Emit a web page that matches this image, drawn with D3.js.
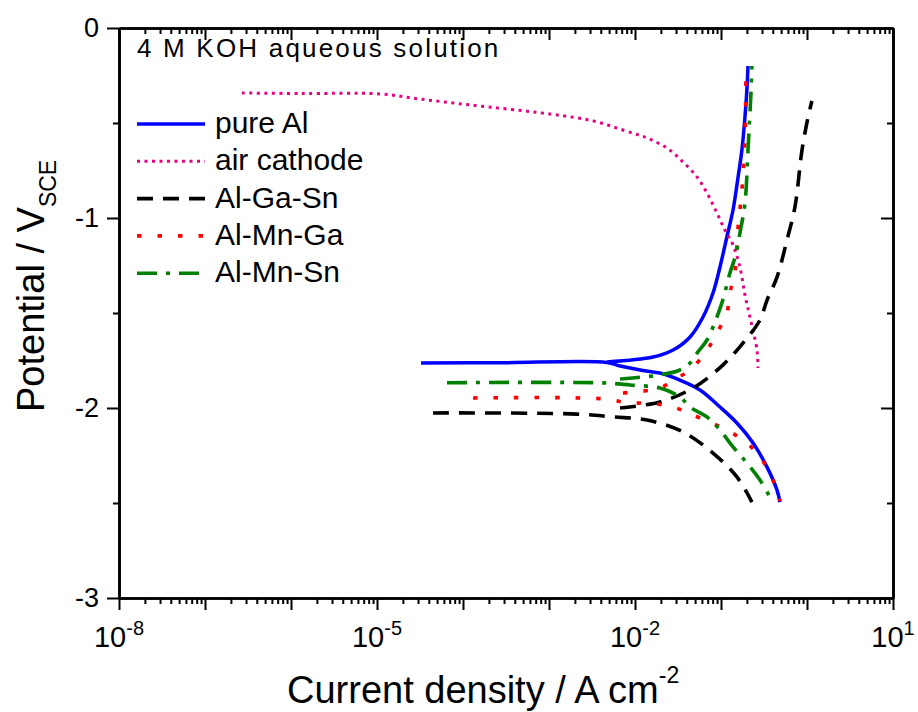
<!DOCTYPE html>
<html>
<head>
<meta charset="utf-8">
<script src="https://cdn.jsdelivr.net/npm/d3@7"></script>
<style>
  html, body { margin: 0; padding: 0; background: #fff; }
  svg { display: block; font-family: Arial, "Liberation Sans", sans-serif; }
</style>
</head>
<body>
<svg id="chart" width="918" height="712"></svg>
<script>
(function () {
  'use strict';

  // Polarization curves: [current density (A cm^-2), potential (V vs SCE)]
  const pureAlCathodic = [
    [3.25e-5, -1.763], [2.7e-4, -1.762], [4.72e-3, -1.760], [6.7e-3, -1.779], [1.62e-2, -1.811],
    [1.95e-2, -1.816], [3.33e-2, -1.853], [5.70e-2, -1.905], [9.73e-2, -1.995], [0.153, -2.079],
    [0.236, -2.184], [0.343, -2.311], [0.448, -2.432], [0.485, -2.495]
  ];
  const pureAlAnodic = [
    [4.72e-3, -1.758], [1.62e-2, -1.732], [2.77e-2, -1.695], [4.37e-2, -1.626], [6.18e-2, -1.521],
    [8.07e-2, -1.395], [9.73e-2, -1.258], [0.117, -1.100], [0.138, -0.958], [0.158, -0.784],
    [0.175, -0.642], [0.190, -0.468], [0.200, -0.326], [0.206, -0.200]
  ];
  const airCathode = [
    [2.69e-7, -0.342], [1.27e-6, -0.345], [1.08e-5, -0.347], [3.16e-5, -0.374], [1.21e-4, -0.405],
    [1.03e-3, -0.453], [3.25e-3, -0.489], [7.24e-3, -0.537], [1.38e-2, -0.579], [2.36e-2, -0.632],
    [3.61e-2, -0.705], [5.26e-2, -0.784], [6.87e-2, -0.868], [8.97e-2, -0.974], [0.111, -1.063],
    [0.138, -1.142], [0.166, -1.258], [0.190, -1.405], [0.217, -1.521], [0.262, -1.695], [0.269, -1.789]
  ];
  const alGaSnCathodic = [
    [4.48e-5, -2.026], [2.12e-3, -2.032], [5.55e-3, -2.047], [1.38e-2, -2.063], [3.61e-2, -2.126],
    [8.07e-2, -2.237], [0.153, -2.363], [0.229, -2.495]
  ];
  const alGaSnAnodic = [
    [6.70e-3, -2.000], [1.95e-2, -1.968], [4.72e-2, -1.895], [0.105, -1.774], [0.180, -1.658],
    [0.284, -1.537], [0.343, -1.432], [0.448, -1.311], [0.585, -1.116], [0.724, -0.942],
    [0.875, -0.642], [1.03, -0.468], [1.14, -0.384]
  ];
  const alMnGaCathodic = [
    [1.31e-4, -1.947], [4.72e-3, -1.953], [8.30e-3, -1.974], [1.38e-2, -1.974], [2.77e-2, -1.995],
    [4.72e-2, -2.037], [0.117, -2.116], [0.200, -2.184], [0.284, -2.258], [0.403, -2.379], [0.485, -2.490]
  ];
  const alMnGaAnodic = [
    [7.24e-3, -1.921], [1.95e-2, -1.895], [2.77e-2, -1.853], [4.37e-2, -1.800], [6.87e-2, -1.695],
    [8.97e-2, -1.605], [0.117, -1.500], [0.127, -1.395], [0.146, -1.274], [0.158, -1.047],
    [0.175, -0.853], [0.190, -0.579], [0.195, -0.221]
  ];
  const alMnSnCathodic = [
    [6.52e-5, -1.867], [4.25e-3, -1.868], [8.75e-3, -1.879], [1.95e-2, -1.895], [3.33e-2, -1.942],
    [4.37e-2, -1.995], [6.87e-2, -2.047], [9.73e-2, -2.116], [0.138, -2.205], [0.200, -2.289],
    [0.284, -2.379], [0.403, -2.500]
  ];
  const alMnSnAnodic = [
    [6.70e-3, -1.847], [1.95e-2, -1.826], [3.33e-2, -1.800], [4.37e-2, -1.763], [5.26e-2, -1.711],
    [6.87e-2, -1.642], [8.97e-2, -1.521], [0.105, -1.432], [0.127, -1.289], [0.146, -1.205],
    [0.166, -1.079], [0.190, -0.921], [0.206, -0.642], [0.223, -0.342], [0.229, -0.200]
  ];

  const xMajorTicks = [1e-8, 1e-7, 1e-6, 1e-5, 1e-4, 1e-3, 1e-2, 1e-1, 1, 10];
  const xLabelExponents = [-8, -5, -2, 1];
  const yMajorTicks = [0, -1, -2, -3];
  const yMinorTicks = [-0.5, -1.5, -2.5];

  const series = [
    { name: 'pure Al', color: '#0000ff', width: 3.5, dash: null, parts: [pureAlCathodic, pureAlAnodic] },
    { name: 'air cathode', color: '#e6007e', width: 3, dash: '3,4.5', parts: [airCathode] },
    { name: 'Al-Ga-Sn', color: '#000000', width: 3.6, dash: '16,10', parts: [alGaSnCathodic, alGaSnAnodic] },
    { name: 'Al-Mn-Ga', color: '#ff0000', width: 3.6, dash: '4.5,16', parts: [alMnGaCathodic, alMnGaAnodic] },
    { name: 'Al-Mn-Sn', color: '#008000', width: 3.6, dash: '20,9,4,9', parts: [alMnSnCathodic, alMnSnAnodic] }
  ];

  const m = { left: 119, right: 893, top: 28, bottom: 598 };
  const svg = d3.select('#chart');

  const x = d3.scaleLog().domain([1e-8, 10]).range([m.left, m.right]);
  const y = d3.scaleLinear().domain([-3, 0]).range([m.bottom, m.top]);

  const xMinorTicks = [];
  xMajorTicks.slice(0, -1).forEach(d => {
    for (let k = 2; k <= 9; k++) xMinorTicks.push(d * k);
  });

  // axes: bottom/left ticks out, top/right ticks in
  function styleAxis(g) {
    g.select('.domain').attr('stroke', '#000').attr('stroke-width', 2.6);
    g.selectAll('.tick line').attr('stroke', '#000').attr('stroke-width', 2);
    g.selectAll('.tick text').remove();
  }

  const axes = [
    { make: d3.axisBottom, pos: `translate(0,${m.bottom})`, scale: x, major: xMajorTicks, minor: xMinorTicks },
    { make: d3.axisBottom, pos: `translate(0,${m.top})`, scale: x, major: xMajorTicks, minor: xMinorTicks },
    { make: d3.axisLeft, pos: `translate(${m.left},0)`, scale: y, major: yMajorTicks, minor: yMinorTicks },
    { make: d3.axisLeft, pos: `translate(${m.right},0)`, scale: y, major: yMajorTicks, minor: yMinorTicks }
  ];

  axes.forEach(a => {
    svg.append('g').attr('transform', a.pos)
      .call(a.make(a.scale).tickValues(a.minor).tickSize(6).tickSizeOuter(0).tickFormat(''))
      .call(styleAxis);
    svg.append('g').attr('transform', a.pos)
      .call(a.make(a.scale).tickValues(a.major).tickSize(12).tickSizeOuter(0).tickFormat(''))
      .call(styleAxis);
  });

  // tick labels
  const xLabels = svg.append('g').attr('font-size', 29).attr('fill', '#000');
  xLabelExponents.forEach(e => {
    const t = xLabels.append('text')
      .attr('x', x(Math.pow(10, e)))
      .attr('y', 647)
      .attr('text-anchor', 'middle');
    t.append('tspan').text('10');
    t.append('tspan').attr('font-size', 20).attr('dy', -12).text(e);
  });

  svg.append('g').attr('font-size', 27).attr('fill', '#000')
    .selectAll('text')
    .data(yMajorTicks)
    .join('text')
    .attr('x', 99)
    .attr('y', d => y(d) + 9)
    .attr('text-anchor', 'end')
    .text(d => d === 0 ? '0' : '-' + Math.abs(d));

  // axis titles
  const yTitle = svg.append('text')
    .attr('transform', 'translate(44,412) rotate(-90)')
    .attr('font-size', 38)
    .attr('fill', '#000');
  yTitle.append('tspan').text('Potential / V');
  yTitle.append('tspan').attr('font-size', 23).attr('dy', 12).text('SCE');

  const xTitle = svg.append('text')
    .attr('x', 287)
    .attr('y', 703)
    .attr('font-size', 38)
    .attr('fill', '#000');
  xTitle.append('tspan').text('Current density / A cm');
  xTitle.append('tspan').attr('font-size', 23).attr('dy', -20).text('-2');

  // curves
  const line = d3.line()
    .x(d => x(d[0]))
    .y(d => y(d[1]))
    .curve(d3.curveCatmullRom.alpha(0.5));

  const plot = svg.append('g').attr('fill', 'none');
  series.forEach(s => {
    s.parts.forEach(part => {
      plot.append('path')
        .attr('d', line(part))
        .attr('stroke', s.color)
        .attr('stroke-width', s.width)
        .attr('stroke-dasharray', s.dash)
        .attr('stroke-linejoin', 'round');
    });
  });

  // annotation and legend
  svg.append('text')
    .attr('x', 137)
    .attr('y', 57)
    .attr('font-size', 26)
    .attr('letter-spacing', 2.2)
    .attr('fill', '#000')
    .text('4 M KOH aqueous solution');

  const legend = svg.append('g').attr('transform', 'translate(137,124)');
  const rows = legend.selectAll('g')
    .data(series)
    .join('g')
    .attr('transform', (d, i) => `translate(0,${i * 37.3})`);

  rows.append('line')
    .attr('x1', 0).attr('x2', 68)
    .attr('stroke', d => d.color)
    .attr('stroke-width', d => d.width)
    .attr('stroke-dasharray', d => d.dash);

  rows.append('text')
    .attr('x', 78)
    .attr('y', 9)
    .attr('font-size', 30)
    .attr('fill', '#000')
    .text(d => d.name);
})();
</script>
</body>
</html>
